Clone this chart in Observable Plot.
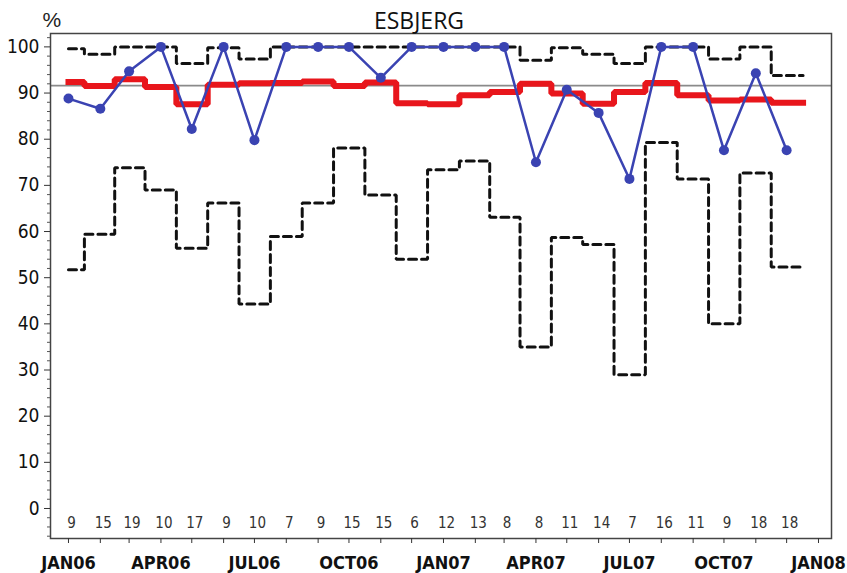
<!DOCTYPE html>
<html>
<head>
<meta charset="utf-8">
<script src="https://cdn.jsdelivr.net/npm/d3@7"></script>
<script src="https://cdn.jsdelivr.net/npm/@observablehq/plot@0.6"></script>
<style>
  body { margin: 0; background: #fff; }
  #chart svg { display: block; }
</style>
</head>
<body>
<div id="chart"></div>
<script>
// ---- Data ----
const months = ["2006-01","2006-02","2006-03","2006-04","2006-05","2006-06","2006-07","2006-08","2006-09","2006-10","2006-11","2006-12",
                "2007-01","2007-02","2007-03","2007-04","2007-05","2007-06","2007-07","2007-08","2007-09","2007-10","2007-11","2007-12"];
const observed   = [88.8, 86.6, 94.7, 100, 82.2, 100, 79.8, 100, 100, 100, 93.3, 100,
                    100, 100, 100, 75.0, 90.7, 85.7, 71.4, 100, 100, 77.6, 94.3, 77.6];
const centerLine = [92.4, 91.5, 93.0, 91.3, 87.6, 91.8, 92.1, 92.2, 92.5, 91.5, 92.3, 87.8,
                    87.6, 89.5, 90.2, 92.0, 89.9, 87.7, 90.2, 92.2, 89.5, 88.4, 88.6, 87.9];
const upperLimit = [99.6, 98.4, 100, 100, 96.4, 99.8, 97.4, 100, 100, 100, 100, 100,
                    100, 100, 100, 97.1, 99.8, 98.4, 96.4, 100, 100, 97.4, 100, 93.8];
const lowerLimit = [51.7, 59.4, 73.8, 69.0, 56.4, 66.2, 44.3, 58.9, 66.2, 78.1, 67.9, 54.0,
                    73.4, 75.3, 63.1, 35.0, 58.7, 57.2, 29.0, 79.3, 71.4, 40.0, 72.7, 52.3];
const counts     = [9, 15, 19, 10, 17, 9, 10, 7, 9, 15, 15, 6, 12, 13, 8, 8, 11, 14, 7, 16, 11, 9, 18, 18];
const overallMean = 91.6;
const xTickLabels = ["JAN06","APR06","JUL06","OCT06","JAN07","APR07","JUL07","OCT07","JAN08"];
const yTickValues = [0, 10, 20, 30, 40, 50, 60, 70, 80, 90, 100];
const titleText = "ESBJERG";
const yUnit = "%";

// ---- Build table ----
const parse = d3.utcParse("%Y-%m");
const rows = months.map((m, i) => ({
  date: parse(m), obs: observed[i], center: centerLine[i],
  upper: upperLimit[i], lower: lowerLimit[i], n: counts[i]
}));
// step lines extend half a month past the last point
const last = rows[rows.length - 1];
const stepRows = [...rows, {...last, date: d3.utcDay.offset(last.date, 16)}];

const quarterDates = d3.utcMonth.every(3).range(parse("2006-01"), d3.utcDay.offset(parse("2008-01"), 1));
const monthDates = d3.utcMonth.range(parse("2006-01"), d3.utcDay.offset(parse("2008-01"), 1));
const labelOf = new Map(quarterDates.map((d, i) => [+d, xTickLabels[i]]));
const minorY = d3.range(-6, 103, 2).filter(v => v % 10 !== 0);

const narrow = "'Liberation Sans Narrow', 'DejaVu Sans Condensed', 'Arial Narrow', sans-serif";
const blue = "#3a43b2";
const red = "#e8161c";

const chart = Plot.plot({
  width: 847,
  height: 573,
  marginLeft: 50,
  marginRight: 16,
  marginTop: 33,
  marginBottom: 35,
  style: {fontFamily: narrow, background: "#fff", overflow: "visible"},
  x: {type: "utc", domain: [new Date(Date.UTC(2005, 11, 14, 12)), new Date(Date.UTC(2008, 0, 13, 16))]},
  y: {domain: [-6.5, 102.9]},
  marks: [
    Plot.ruleY([overallMean], {stroke: "#8a8a8a", strokeWidth: 1.6}),
    Plot.line(stepRows, {x: "date", y: "upper", curve: "step", stroke: "#111", strokeWidth: 3, strokeDasharray: "8,5", strokeLinejoin: "miter"}),
    Plot.line(stepRows, {x: "date", y: "lower", curve: "step", stroke: "#111", strokeWidth: 3, strokeDasharray: "8,5", strokeLinejoin: "miter"}),
    Plot.line(stepRows, {x: "date", y: "center", curve: "step", stroke: red, strokeWidth: 6, strokeLinejoin: "miter", strokeLinecap: "square"}),
    Plot.line(rows, {x: "date", y: "obs", stroke: blue, strokeWidth: 2.5}),
    Plot.dot(rows, {x: "date", y: "obs", r: 5, fill: blue, stroke: "none"}),
    Plot.text(rows, {x: "date", text: d => String(d.n), frameAnchor: "bottom", dy: -15, dx: 3, fontSize: 15, fill: "#333", lineAnchor: "middle"}),
    Plot.frame({stroke: "#444", strokeWidth: 1.5}),
    Plot.axisY(yTickValues, {tickSize: 6, tickPadding: 5, fontSize: 19, stroke: "#333", fill: "#111", label: null}),
    Plot.axisY(minorY, {tickSize: 3, tickFormat: () => "", stroke: "#555", label: null}),
    Plot.axisX(monthDates, {tickSize: 5, tickFormat: () => "", stroke: "#333", label: null}),
    Plot.axisX(quarterDates, {tickSize: 0, tickPadding: 18, tickFormat: d => labelOf.get(+d), fontSize: 18, fill: "#111", fontWeight: "bold", label: null}),
    Plot.text([yUnit], {frameAnchor: "top-left", dx: -8, dy: -21, fontSize: 21, fill: "#222", fontFamily: "'Liberation Sans', sans-serif"}),
    Plot.text([titleText], {frameAnchor: "top", dx: -22, dy: -21, fontSize: 23, fill: "#111", fontFamily: "'Open Sans', 'Noto Sans', sans-serif"})
  ]
});
document.getElementById("chart").appendChild(chart);
</script>
</body>
</html>
